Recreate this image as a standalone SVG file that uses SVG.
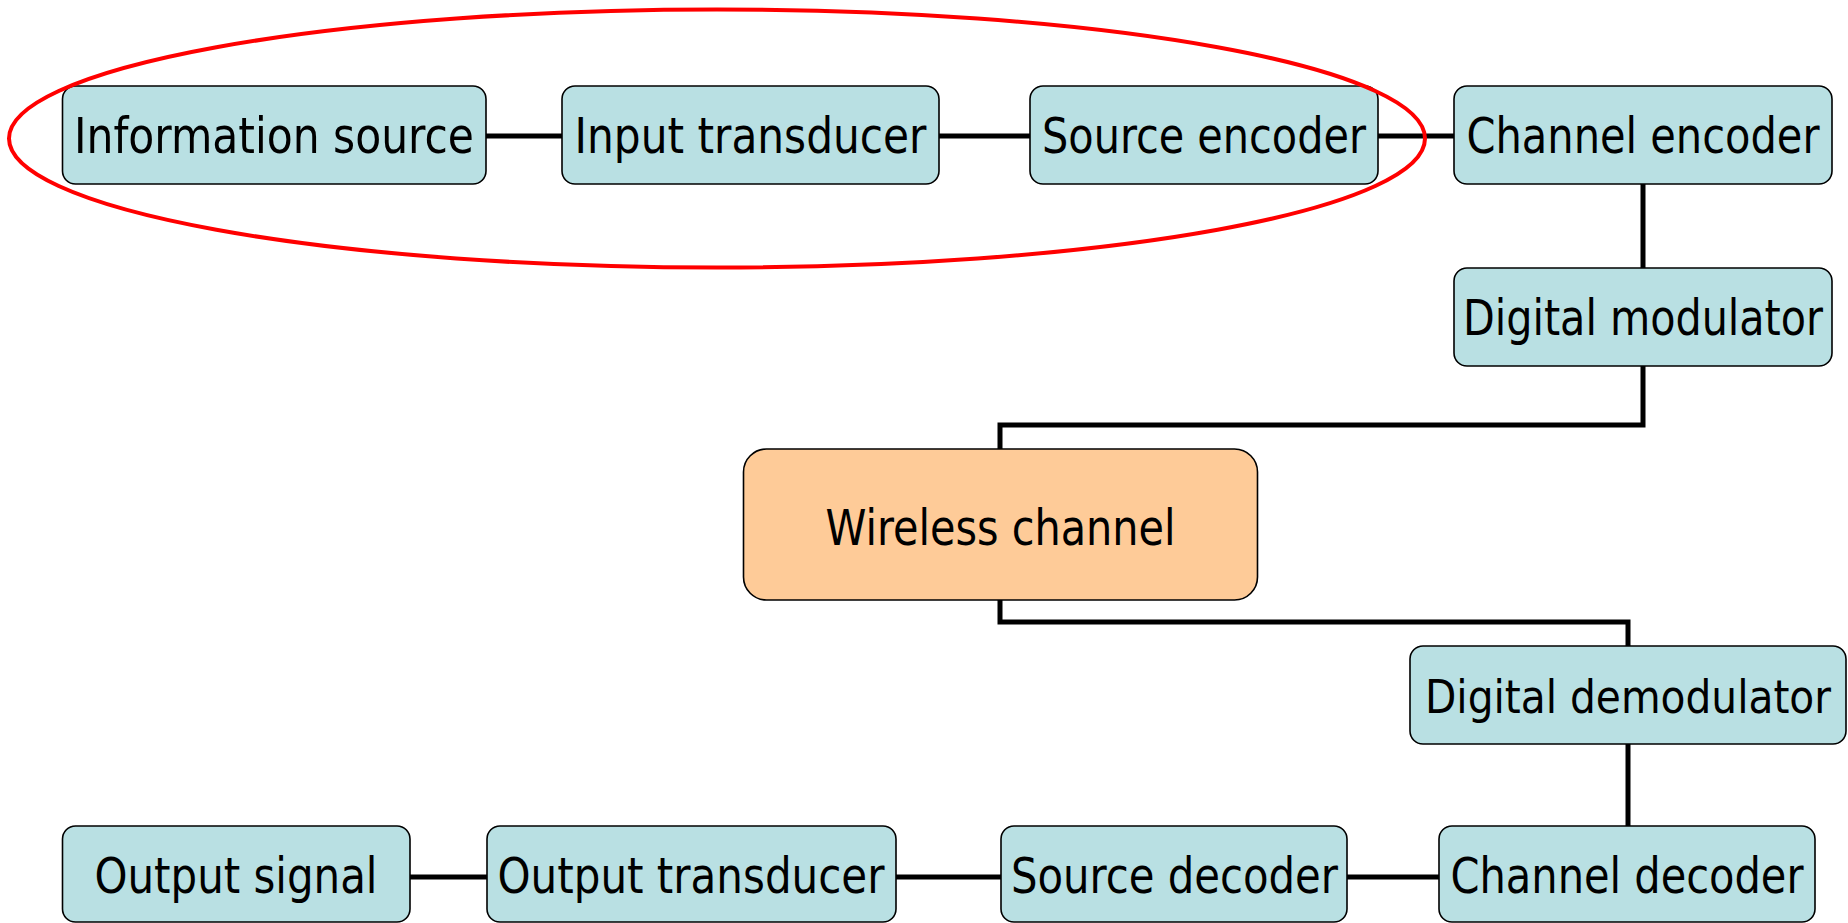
<svg xmlns="http://www.w3.org/2000/svg" width="1848" height="923" viewBox="0 0 1848 923">
  <style>
    .box { fill: #B9E0E3; stroke: #000; stroke-width: 1.6; }
    .chan { fill: #FECB98; stroke: #000; stroke-width: 1.6; }
    .lbl { font-family: "DejaVu Sans Condensed", "DejaVu Sans", sans-serif; font-size: 49px; fill: #000; text-anchor: middle; }
    .wire { fill: none; stroke: #000; stroke-width: 5; }
    .mark { fill: none; stroke: #FF0000; stroke-width: 4; }
  </style>
  <rect width="1848" height="923" fill="#FFFFFF"/>

  <!-- signal path links -->
  <g id="connectors">
    <line class="wire" x1="486" y1="136" x2="562" y2="136"/>
    <line class="wire" x1="939" y1="136" x2="1030" y2="136"/>
    <line class="wire" x1="1378" y1="136" x2="1454" y2="136"/>
    <line class="wire" x1="1643" y1="184" x2="1643" y2="268"/>
    <path class="wire" d="M1643 366 V425 H1000 V449"/>
    <path class="wire" d="M1000 600 V622 H1628 V646"/>
    <line class="wire" x1="1628" y1="744" x2="1628" y2="826"/>
    <line class="wire" x1="1347" y1="877" x2="1439" y2="877"/>
    <line class="wire" x1="896" y1="877" x2="1001" y2="877"/>
    <line class="wire" x1="410" y1="877" x2="487" y2="877"/>
  </g>

  <!-- transmitter chain -->
  <g id="information-source">
    <rect class="box" x="62.5" y="86" width="423.5" height="98" rx="13"/>
    <text class="lbl" x="274" y="153" textLength="400" lengthAdjust="spacingAndGlyphs">Information source</text>
  </g>
  <g id="input-transducer">
    <rect class="box" x="562" y="86" width="377" height="98" rx="13"/>
    <text class="lbl" x="750.5" y="153" textLength="352" lengthAdjust="spacingAndGlyphs">Input transducer</text>
  </g>
  <g id="source-encoder">
    <rect class="box" x="1030" y="86" width="348" height="98" rx="13"/>
    <text class="lbl" x="1204" y="153" textLength="324" lengthAdjust="spacingAndGlyphs">Source encoder</text>
  </g>
  <g id="channel-encoder">
    <rect class="box" x="1454" y="86" width="378" height="98" rx="13"/>
    <text class="lbl" x="1643" y="153" textLength="353" lengthAdjust="spacingAndGlyphs">Channel encoder</text>
  </g>
  <g id="digital-modulator">
    <rect class="box" x="1454" y="268" width="378" height="98" rx="13"/>
    <text class="lbl" x="1643" y="335" textLength="360" lengthAdjust="spacingAndGlyphs">Digital modulator</text>
  </g>

  <!-- propagation medium -->
  <g id="wireless-channel">
    <rect class="chan" x="743.5" y="449" width="514" height="151" rx="23"/>
    <text class="lbl" x="1000.5" y="545" textLength="350" lengthAdjust="spacingAndGlyphs" style="font-size:50px">Wireless channel</text>
  </g>

  <!-- receiver chain -->
  <g id="digital-demodulator">
    <rect class="box" x="1410" y="646" width="436" height="98" rx="13"/>
    <text class="lbl" x="1628" y="713" textLength="406" lengthAdjust="spacingAndGlyphs" style="font-size:47px">Digital demodulator</text>
  </g>
  <g id="channel-decoder">
    <rect class="box" x="1439" y="826" width="376" height="96" rx="13"/>
    <text class="lbl" x="1627" y="893" textLength="353" lengthAdjust="spacingAndGlyphs">Channel decoder</text>
  </g>
  <g id="source-decoder">
    <rect class="box" x="1001" y="826" width="346" height="96" rx="13"/>
    <text class="lbl" x="1174.5" y="893" textLength="327" lengthAdjust="spacingAndGlyphs">Source decoder</text>
  </g>
  <g id="output-transducer">
    <rect class="box" x="487" y="826" width="409" height="96" rx="13"/>
    <text class="lbl" x="691" y="893" textLength="387" lengthAdjust="spacingAndGlyphs">Output transducer</text>
  </g>
  <g id="output-signal">
    <rect class="box" x="62.5" y="826" width="347.5" height="96" rx="13"/>
    <text class="lbl" x="236" y="893" textLength="283" lengthAdjust="spacingAndGlyphs">Output signal</text>
  </g>

  <!-- highlight around the source-side blocks -->
  <ellipse id="source-highlight" class="mark" cx="717" cy="138.5" rx="708" ry="129"/>
</svg>
